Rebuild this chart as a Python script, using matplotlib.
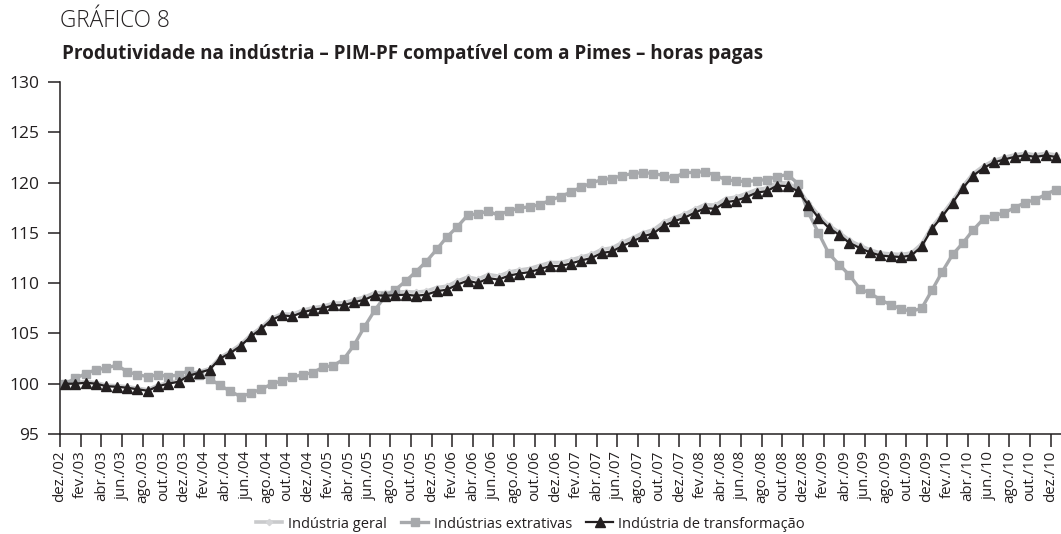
import matplotlib
matplotlib.use("Agg")
import matplotlib.pyplot as plt

plt.rcParams["font.family"] = ["Open Sans", "DejaVu Sans"]

# monthly index, dez/02 .. dez/10
MONTHS = ["dez.", "fev.", "abr.", "jun.", "ago.", "out."]
START_YEAR = 2

transformacao = [
    100.0, 100.0, 100.1, 100.0, 99.75, 99.7, 99.6, 99.45, 99.3, 99.75,
    100.0, 100.2, 100.8, 101.1, 101.4, 102.5, 103.05, 103.75, 104.7, 105.45,
    106.35, 106.8, 106.7, 107.1, 107.35, 107.5, 107.8, 107.8, 108.1, 108.35,
    108.8, 108.75, 108.8, 108.85, 108.75, 108.85, 109.2, 109.35, 109.85, 110.25,
    110.0, 110.5, 110.35, 110.75, 110.95, 111.1, 111.4, 111.7, 111.7, 111.95,
    112.25, 112.5, 113.0, 113.15, 113.7, 114.15, 114.65, 114.95, 115.7, 116.15,
    116.5, 117.0, 117.45, 117.4, 118.05, 118.2, 118.55, 119.0, 119.15, 119.7,
    119.65, 119.15, 117.8, 116.5, 115.5, 114.8, 114.0, 113.5, 113.05, 112.75,
    112.65, 112.6, 112.75, 113.65, 115.4, 116.65, 118.0, 119.45, 120.7, 121.45,
    122.0, 122.3, 122.55, 122.7, 122.55, 122.7, 122.55,
]

extrativas = [
    100.0, 100.55, 101.0, 101.4, 101.55, 101.85, 101.2, 100.9, 100.7, 100.9,
    100.7, 100.9, 101.3, 100.9, 100.5, 99.85, 99.25, 98.72, 99.05, 99.47,
    99.95, 100.3, 100.65, 100.9, 101.1, 101.65, 101.8, 102.45, 103.85, 105.65,
    107.3, 108.7, 109.35, 110.2, 111.15, 112.15, 113.35, 114.6, 115.6, 116.75,
    116.9, 117.15, 116.75, 117.2, 117.45, 117.6, 117.8, 118.25, 118.6, 119.05,
    119.55, 119.95, 120.3, 120.4, 120.7, 120.9, 121.0, 120.9, 120.7, 120.45,
    121.0, 121.0, 121.1, 120.7, 120.3, 120.15, 120.1, 120.2, 120.3, 120.6,
    120.8, 119.9, 117.05, 115.0, 112.95, 111.85, 110.8, 109.45, 109.0, 108.35,
    107.85, 107.45, 107.2, 107.5, 109.3, 111.15, 112.85, 114.0, 115.3, 116.4,
    116.7, 117.0, 117.5, 118.0, 118.3, 118.8, 119.3,
]

geral = [
    100.0, 100.1, 100.2, 100.1, 99.85, 99.8, 99.7, 99.55, 99.4, 99.85,
    100.1, 100.3, 100.9, 101.2, 101.5, 102.6, 103.2, 103.9, 104.85, 105.6,
    106.5, 106.95, 106.9, 107.3, 107.55, 107.7, 108.0, 108.05, 108.35, 108.6,
    109.05, 109.05, 109.1, 109.15, 109.1, 109.2, 109.55, 109.7, 110.2, 110.6,
    110.4, 110.85, 110.7, 111.1, 111.3, 111.45, 111.75, 112.05, 112.05, 112.3,
    112.6, 112.85, 113.35, 113.5, 114.05, 114.5, 115.0, 115.3, 116.05, 116.5,
    116.85, 117.35, 117.8, 117.75, 118.4, 118.55, 118.9, 119.3, 119.45, 120.0,
    119.95, 119.4, 118.0, 116.75, 115.75, 115.05, 114.25, 113.75, 113.3, 113.0,
    112.9, 112.85, 113.0, 113.9, 115.6, 116.85, 118.2, 119.65, 120.9, 121.65,
    122.2, 122.5, 122.75, 122.9, 122.75, 122.9, 122.75,
]

n = len(transformacao)
x = list(range(n))
tick_pos = [i - 0.5 for i in range(0, n, 2)]
tick_lab = [f"{MONTHS[k % 6]}/{START_YEAR + (k + 5) // 6:02d}" for k in range(len(tick_pos))]

INK = "#231f20"
fig = plt.figure(figsize=(10.61, 5.34), dpi=100)
ax = fig.add_axes([60 / 1061, 1 - 434 / 534, 1 - 60 / 1061, (434 - 82) / 534])

ax.plot(x, geral, color="#c9cacc", lw=2.6, marker="D", ms=3.2, mfc="#d4d5d7",
        mec="#d4d5d7", label="Indústria geral", zorder=2)
ax.plot(x, extrativas, color="#a7a9ac", lw=2.4, marker="s", ms=6.2, mfc="#a7a9ac",
        mec="#a7a9ac", label="Indústrias extrativas", zorder=3)
ax.plot(x, transformacao, color=INK, lw=1.6, marker="^", ms=7.5, mfc=INK, mec=INK,
        label="Indústria de transformação", zorder=4)

ax.set_xlim(-0.5, n - 0.5)
ax.set_ylim(95, 130)
ax.set_yticks(range(95, 131, 5))
ax.set_xticks(tick_pos)
ax.set_xticklabels(tick_lab, rotation=90, fontsize=10.8, color=INK)
ax.tick_params(axis="y", labelsize=12.5, colors=INK, length=9, width=1.1, pad=6)
ax.tick_params(axis="x", length=9, width=1.1, colors=INK, pad=3)
for sp in ("top", "right"):
    ax.spines[sp].set_visible(False)
for sp in ("left", "bottom"):
    ax.spines[sp].set_color(INK)
    ax.spines[sp].set_linewidth(1.1)

fig.text(60 / 1061, 1 - 9 / 534, "GRÁFICO 8", fontsize=16.3, color=INK, va="top",
         ha="left", fontweight="light")
fig.text(62 / 1061, 1 - 44 / 534,
         "Produtividade na indústria – PIM-PF compatível com a Pimes – horas pagas",
         fontsize=13.6, color=INK, va="top", ha="left", fontweight="bold")

fig.legend(loc="center", bbox_to_anchor=(0.5, 1 - 524 / 534), ncol=3, frameon=False,
           fontsize=10.5, handlelength=1.8, handletextpad=0.4, columnspacing=1.0,
           labelcolor=INK)

fig.savefig("out.png", dpi=100)
